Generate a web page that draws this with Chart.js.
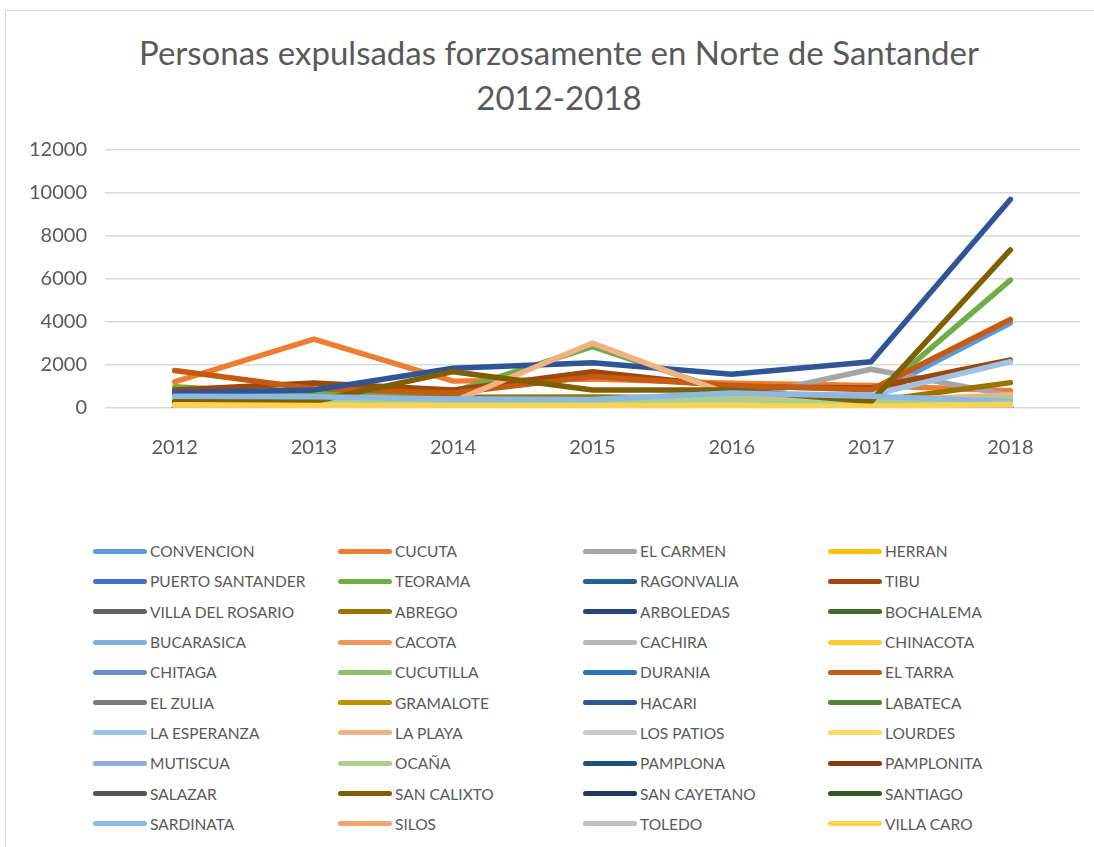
<!DOCTYPE html>
<html>
<head>
<meta charset="utf-8">
<script src="https://cdn.jsdelivr.net/npm/chart.js@4.4.1/dist/chart.umd.min.js"></script>
<style>
  html, body { margin: 0; padding: 0; background: #fff; }
  body { width: 1094px; height: 847px; position: relative; overflow: hidden; font-family: Lato, sans-serif; }
  #frame { position: absolute; left: 5px; top: 10px; width: 1100px; height: 850px; border: 1px solid #d9d9d9; box-sizing: border-box; }
  #title { position: absolute; left: 259px; width: 600px; top: 30px; text-align: center; font-size: 33px; line-height: 45px; color: #595959; white-space: nowrap; display: flex; flex-direction: column; align-items: center; }
  #wrap { position: absolute; left: 0; top: 0; width: 1094px; height: 480px; }
  #legend { position: absolute; left: 93px; top: 536px; display: grid; grid-template-columns: repeat(4, 245px); grid-auto-rows: 30.3px; }
  .item { display: flex; align-items: center; font-size: 15.5px; color: #595959; white-space: nowrap; }
  .swatch { width: 54px; height: 5px; border-radius: 3px; margin-right: 3px; flex: none; }
</style>
</head>
<body>
<div id="frame"></div>
<div id="title"><div>Personas expulsadas forzosamente en Norte de Santander</div><div>2012-2018</div></div>
<div id="wrap"><canvas id="chart"></canvas></div>
<div id="legend"></div>
<script>
// Categories (years)
const years = ['2012', '2013', '2014', '2015', '2016', '2017', '2018'];

// Municipality names, in the legend order
const municipios = [
    'CONVENCION', 'CUCUTA', 'EL CARMEN', 'HERRAN',
    'PUERTO SANTANDER', 'TEORAMA', 'RAGONVALIA', 'TIBU',
    'VILLA DEL ROSARIO', 'ABREGO', 'ARBOLEDAS', 'BOCHALEMA',
    'BUCARASICA', 'CACOTA', 'CACHIRA', 'CHINACOTA',
    'CHITAGA', 'CUCUTILLA', 'DURANIA', 'EL TARRA',
    'EL ZULIA', 'GRAMALOTE', 'HACARI', 'LABATECA',
    'LA ESPERANZA', 'LA PLAYA', 'LOS PATIOS', 'LOURDES',
    'MUTISCUA', 'OCAÑA', 'PAMPLONA', 'PAMPLONITA',
    'SALAZAR', 'SAN CALIXTO', 'SAN CAYETANO', 'SANTIAGO',
    'SARDINATA', 'SILOS', 'TOLEDO', 'VILLA CARO'
];

// Values per municipality
const convencion = [600, 550, 450, 400, 650, 600, 3950];
const cucuta = [1220, 3200, 1250, 1350, 1150, 1050, 800];
const elCarmen = [350, 300, 300, 250, 400, 1800, 600];
const herran = [30, 20, 20, 15, 20, 10, 15];
const puertoSantander = [150, 120, 100, 90, 100, 80, 120];
const teorama = [990, 600, 760, 2850, 700, 400, 5950];
const ragonvalia = [40, 30, 30, 20, 25, 20, 30];
const tibu = [840, 1160, 840, 1690, 990, 930, 2230];
const villaDelRosario = [250, 230, 200, 180, 220, 150, 250];
const abrego = [450, 450, 500, 510, 450, 300, 1180];
const arboledas = [60, 50, 40, 40, 30, 30, 40];
const bochalema = [30, 20, 20, 20, 20, 10, 20];
const bucarasica = [80, 70, 60, 50, 60, 40, 60];
const cacota = [10, 10, 5, 5, 5, 5, 10];
const cachira = [200, 180, 150, 120, 150, 100, 150];
const chinacota = [60, 50, 40, 40, 40, 30, 50];
const chitaga = [30, 20, 20, 20, 20, 15, 20];
const cucutilla = [40, 30, 30, 30, 30, 20, 30];
const durania = [20, 15, 15, 10, 10, 10, 15];
const elTarra = [1740, 900, 700, 1460, 1050, 850, 4120];
const elZulia = [300, 250, 250, 200, 200, 150, 250];
const gramalote = [50, 40, 30, 30, 30, 20, 30];
const hacari = [720, 840, 1850, 2100, 1570, 2150, 9700];
const labateca = [20, 15, 10, 10, 10, 10, 15];
const laEsperanza = [500, 480, 400, 380, 650, 600, 2150];
const laPlaya = [400, 350, 300, 3020, 600, 350, 600];
const losPatios = [250, 200, 200, 180, 200, 150, 200];
const lourdes = [20, 15, 10, 10, 10, 10, 15];
const mutiscua = [10, 10, 5, 5, 5, 5, 10];
const ocana = [450, 400, 350, 350, 400, 250, 460];
const pamplona = [100, 80, 80, 70, 60, 50, 70];
const pamplonita = [40, 30, 30, 20, 20, 20, 30];
const salazar = [30, 25, 20, 20, 20, 15, 25];
const sanCalixto = [300, 300, 1690, 840, 840, 300, 7350];
const sanCayetano = [40, 30, 25, 20, 20, 15, 25];
const santiago = [20, 15, 10, 10, 10, 10, 15];
const sardinata = [550, 520, 420, 400, 700, 550, 300];
const silos = [20, 15, 10, 10, 10, 10, 15];
const toledo = [100, 80, 60, 60, 50, 40, 60];
const villaCaro = [150, 120, 100, 100, 120, 80, 180];

const seriesValues = [
    convencion, cucuta, elCarmen, herran,
    puertoSantander, teorama, ragonvalia, tibu,
    villaDelRosario, abrego, arboledas, bochalema,
    bucarasica, cacota, cachira, chinacota,
    chitaga, cucutilla, durania, elTarra,
    elZulia, gramalote, hacari, labateca,
    laEsperanza, laPlaya, losPatios, lourdes,
    mutiscua, ocana, pamplona, pamplonita,
    salazar, sanCalixto, sanCayetano, santiago,
    sardinata, silos, toledo, villaCaro
];

// Office theme colour cycle
const seriesColors = [
    '#5B9BD5', '#ED7D31', '#A5A5A5', '#FFC000', '#4472C4', '#70AD47',
    '#255E91', '#9E480E', '#636363', '#997300', '#264478', '#43682B',
    '#7CAFDD', '#F1975A', '#B7B7B7', '#FFCD33', '#698ED0', '#8CC168',
    '#2E75B6', '#C55A11', '#7B7B7B', '#BF9000', '#2F5597', '#548235',
    '#9DC3E6', '#F4B183', '#C9C9C9', '#FFD966', '#8FAADC', '#A9D18E',
    '#1F4E79', '#843C0C', '#525252', '#7F6000', '#203864', '#385723',
    '#8CB9E2', '#F2A46F', '#C0C0C0', '#FFD34D'
];

const datasets = municipios.map((name, i) => ({
    label: name,
    data: seriesValues[i],
    borderColor: seriesColors[i],
    backgroundColor: seriesColors[i],
    borderWidth: 5.5,
    pointRadius: 0,
    borderCapStyle: 'round',
    borderJoinStyle: 'round',
    tension: 0,
    // later series drawn on top, as in the original
    order: municipios.length - i
}));

const textColor = '#595959';

const ctx = document.getElementById('chart').getContext('2d');
new Chart(ctx, {
    type: 'line',
    data: { labels: years, datasets: datasets },
    options: {
        responsive: true,
        maintainAspectRatio: false,
        animation: false,
        layout: { padding: { left: 5, right: 14, top: 150, bottom: 0 } },
        plugins: {
            legend: { display: false },
            tooltip: { enabled: false },
            title: { display: false }
        },
        scales: {
            x: {
                offset: true,
                grid: { display: false },
                border: { display: false },
                ticks: { color: textColor, font: { family: 'Lato', size: 20 }, padding: 20 },
                afterFit: function(scale) { scale.height = 72; }
            },
            y: {
                min: 0,
                max: 12000,
                ticks: {
                    stepSize: 2000,
                    color: textColor,
                    font: { family: 'Lato', size: 20 },
                    padding: 18,
                    callback: function(value) { return String(value); }
                },
                grid: { color: '#d9d9d9', lineWidth: 1.5, drawTicks: false },
                border: { display: false },
                afterFit: function(scale) { scale.width = 100; }
            }
        }
    }
});

// Legend in four fixed columns, like the original
const legend = document.getElementById('legend');
municipios.forEach((name, i) => {
    const item = document.createElement('div');
    item.className = 'item';
    const swatch = document.createElement('span');
    swatch.className = 'swatch';
    swatch.style.background = seriesColors[i];
    const label = document.createElement('span');
    label.textContent = name;
    item.appendChild(swatch);
    item.appendChild(label);
    legend.appendChild(item);
});
</script>
</body>
</html>
